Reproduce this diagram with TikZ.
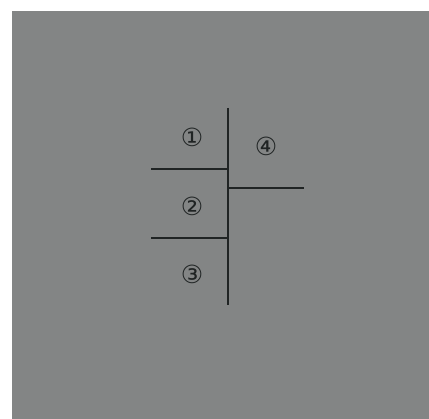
\documentclass[tikz,border=0pt]{standalone}
\usepackage{fontspec}
\newfontfamily\circfont{DejaVu Sans}
\usepackage{tikz}
\usetikzlibrary{positioning}
\usepackage{xcolor}
\definecolor{boardcolor}{RGB}{131,133,133}
\definecolor{linecolor}{RGB}{32,36,36}

\begin{document}
\begin{tikzpicture}[x=1pt, y=-1pt, every node/.style={font=\circfont\fontsize{25}{25}\selectfont, text=linecolor, inner sep=0pt}]
      % Page and grey board
      \useasboundingbox (0,0) rectangle (429,419);
      \fill[white] (0,0) rectangle (429,419);
      \fill[boardcolor] (12,11) rectangle (429,419);

      % Divider lines
      \coordinate (top) at (228,108);
      \coordinate (bot) at (228,305);
      \coordinate (cutA) at (151,169);
      \coordinate (cutB) at (151,238);
      \coordinate (cutC) at (304,188);
      \draw[linecolor, line width=1.2pt] (top) -- (bot);
      \draw[linecolor, line width=1.2pt] (cutA) -- (cutA -| top);
      \draw[linecolor, line width=1.2pt] (cutB) -- (cutB -| top);
      \draw[linecolor, line width=1.2pt] (cutC -| top) -- (cutC);

      % Region numbers
      \node (one)   at (192,137) {①};
      \node (two)   at (192,206) {②};
      \node (three) at (192,274) {③};
      \node (four)  at (266,146) {④};
    \end{tikzpicture}
\end{document}
